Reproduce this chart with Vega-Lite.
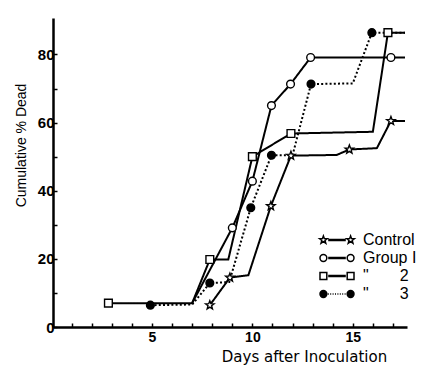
{
  "$schema": "https://vega.github.io/schema/vega-lite/v6.json",
  "autosize": {"type": "none"},
  "padding": {"left": 53, "top": 18, "right": 26, "bottom": 46},
  "width": 354,
  "height": 309,
  "background": "white",
  "config": {"view": {"stroke": null}},
  "data": {"values": [
    {"group": "Control", "day": 7.88, "pct": 6.4, "marker": true},
    {"group": "Control", "day": 8.88, "pct": 14.5, "marker": true},
    {"group": "Control", "day": 9.8, "pct": 15.2, "marker": false},
    {"group": "Control", "day": 10.92, "pct": 35.5, "marker": true},
    {"group": "Control", "day": 11.92, "pct": 50.3, "marker": true},
    {"group": "Control", "day": 14.2, "pct": 50.5, "marker": false},
    {"group": "Control", "day": 14.83, "pct": 52.1, "marker": true},
    {"group": "Control", "day": 16.2, "pct": 52.5, "marker": false},
    {"group": "Control", "day": 16.9, "pct": 60.5, "marker": true},
    {"group": "Control", "day": 17.6, "pct": 60.5, "marker": false},
    {"group": "Group I", "day": 7.0, "pct": 7.0, "marker": false},
    {"group": "Group I", "day": 9.0, "pct": 29.1, "marker": true},
    {"group": "Group I", "day": 10.0, "pct": 42.8, "marker": true},
    {"group": "Group I", "day": 10.95, "pct": 65.0, "marker": true},
    {"group": "Group I", "day": 11.9, "pct": 71.3, "marker": true},
    {"group": "Group I", "day": 12.9, "pct": 79.1, "marker": true},
    {"group": "Group I", "day": 16.9, "pct": 79.1, "marker": true},
    {"group": "Group I", "day": 17.6, "pct": 79.1, "marker": false},
    {"group": "Group 2", "day": 2.83, "pct": 7.0, "marker": true},
    {"group": "Group 2", "day": 7.0, "pct": 7.0, "marker": false},
    {"group": "Group 2", "day": 7.88, "pct": 19.8, "marker": true},
    {"group": "Group 2", "day": 8.8, "pct": 19.8, "marker": false},
    {"group": "Group 2", "day": 10.0, "pct": 50.0, "marker": true},
    {"group": "Group 2", "day": 11.92, "pct": 56.8, "marker": true},
    {"group": "Group 2", "day": 16.0, "pct": 57.3, "marker": false},
    {"group": "Group 2", "day": 16.75, "pct": 86.4, "marker": true},
    {"group": "Group 2", "day": 17.6, "pct": 86.4, "marker": false},
    {"group": "Group 3", "day": 4.92, "pct": 6.4, "marker": true},
    {"group": "Group 3", "day": 7.0, "pct": 6.6, "marker": false},
    {"group": "Group 3", "day": 7.88, "pct": 12.9, "marker": true},
    {"group": "Group 3", "day": 8.85, "pct": 13.2, "marker": false},
    {"group": "Group 3", "day": 9.92, "pct": 35.0, "marker": true},
    {"group": "Group 3", "day": 10.95, "pct": 50.4, "marker": true},
    {"group": "Group 3", "day": 12.0, "pct": 50.4, "marker": false},
    {"group": "Group 3", "day": 12.92, "pct": 71.3, "marker": true},
    {"group": "Group 3", "day": 15.0, "pct": 71.5, "marker": false},
    {"group": "Group 3", "day": 15.95, "pct": 86.4, "marker": true},
    {"group": "Group 3", "day": 17.6, "pct": 86.4, "marker": false}
  ]},
  "encoding": {
    "x": {
      "field": "day", "type": "quantitative",
      "scale": {"domain": [0.07, 17.7], "nice": false, "zero": false},
      "axis": {
        "values": [1,2,3,4,5,6,7,8,9,10,11,12,13,14,15,16,17],
        "labelExpr": "datum.value % 5 == 0 ? datum.label : ''",
        "grid": false,
        "domainColor": "black", "domainWidth": 2.5,
        "tickColor": "black", "tickWidth": 1.5, "tickSize": -4,
        "labelPadding": 7,
        "labelFont": "Liberation Sans", "labelFontSize": 14, "labelFontWeight": "bold", "labelColor": "black",
        "title": "Days after Inoculation",
        "titleFont": "DejaVu Sans", "titleFontSize": 15, "titleFontWeight": "normal", "titleColor": "black",
        "titleX": 251, "titleY": 34, "titleAlign": "center", "titleBaseline": "alphabetic", "titleAnchor": null
      }
    },
    "y": {
      "field": "pct", "type": "quantitative",
      "scale": {"domain": [0, 90.7], "nice": false, "zero": true},
      "axis": {
        "values": [0,10,20,30,40,50,60,70,80],
        "labelExpr": "datum.value % 20 == 0 ? datum.label : ''",
        "grid": false,
        "domainColor": "black", "domainWidth": 2.5,
        "tickColor": "black", "tickWidth": 1.5, "tickSize": -4,
        "labelPadding": 3,
        "labelFont": "Liberation Sans", "labelFontSize": 15, "labelFontWeight": "bold", "labelColor": "black",
        "title": "Cumulative % Dead",
        "titleFont": "Liberation Sans", "titleFontSize": 14, "titleFontWeight": "normal", "titleColor": "black",
        "titleX": -28, "titleY": 127, "titleAlign": "center", "titleBaseline": "alphabetic", "titleAngle": -90, "titleAnchor": null
      }
    }
  },
  "layer": [
    {
      "mark": {"type": "line", "color": "black", "strokeWidth": 2},
      "encoding": {
        "detail": {"field": "group"},
        "strokeDash": {
          "field": "group", "type": "nominal",
          "scale": {"domain": ["Control", "Group I", "Group 2", "Group 3"], "range": [[1, 0], [1, 0], [1, 0], [2, 2.2]]},
          "legend": null
        }
      }
    },
    {
      "transform": [{"filter": "datum.marker"}],
      "mark": {"type": "point", "filled": true, "stroke": "black", "strokeWidth": 1.4, "size": 60, "opacity": 1},
      "encoding": {
        "shape": {
          "field": "group", "type": "nominal",
          "scale": {"domain": ["Control", "Group I", "Group 2", "Group 3"], "range": ["M0,-1.15L0.284,-0.391L1.094,-0.355L0.459,0.149L0.676,0.93L0,0.483L-0.676,0.93L-0.459,0.149L-1.094,-0.355L-0.284,-0.391Z", "circle", "square", "circle"]},
          "legend": null
        },
        "fill": {
          "field": "group", "type": "nominal",
          "scale": {"domain": ["Control", "Group I", "Group 2", "Group 3"], "range": ["white", "white", "white", "black"]},
          "legend": null
        }
      }
    },
    {
      "transform": [{"filter": "false"}],
      "mark": {"type": "point", "filled": true, "stroke": "black", "strokeWidth": 1.3, "size": 64, "opacity": 1},
      "encoding": {
        "shape": {
          "field": "group", "type": "nominal",
          "scale": {"domain": ["Control", "Group I", "Group 2", "Group 3"], "range": [
            "M-3.4,-1L-3.153,-0.34L-2.449,-0.309L-3.001,0.13L-2.812,0.809L-3.4,0.42L-3.988,0.809L-3.799,0.13L-4.351,-0.309L-3.647,-0.34ZM3.4,-1L3.647,-0.34L4.351,-0.309L3.799,0.13L3.988,0.809L3.4,0.42L2.812,0.809L3.001,0.13L2.449,-0.309L3.153,-0.34ZM-2.2,-0.15L2.2,-0.15M-2.2,0.15L2.2,0.15",
            "M-4.25,0A0.85,0.85 0 1,0 -2.55,0A0.85,0.85 0 1,0 -4.25,0ZM2.55,0A0.85,0.85 0 1,0 4.25,0A0.85,0.85 0 1,0 2.55,0ZM-2.2,-0.15L2.2,-0.15M-2.2,0.15L2.2,0.15",
            "M-4.25,-0.85L-2.55,-0.85L-2.55,0.85L-4.25,0.85ZM2.55,-0.85L4.25,-0.85L4.25,0.85L2.55,0.85ZM-2.2,-0.15L2.2,-0.15M-2.2,0.15L2.2,0.15",
            "M-4.25,0A0.85,0.85 0 1,0 -2.55,0A0.85,0.85 0 1,0 -4.25,0ZM2.55,0A0.85,0.85 0 1,0 4.25,0A0.85,0.85 0 1,0 2.55,0ZM-2.3,0L-2.05,0M-1.7,0L-1.45,0M-1.1,0L-0.85,0M-0.5,0L-0.25,0M0.1,0L0.35,0M0.7,0L0.95,0M1.3,0L1.55,0M1.9,0L2.15,0"
          ]},
          "legend": {
            "orient": "none", "legendX": 276, "legendY": 214,
            "title": null, "padding": 0,
            "symbolSize": 64,
            "labelFont": "Liberation Sans", "labelFontSize": 16, "labelColor": "black", "labelOffset": 18,
            "rowPadding": 2,
            "labelExpr": "datum.label == 'Group 2' ? '\u00a0\u00a0\"\u00a0\u00a0\u00a0\u00a0\u00a0\u00a0\u00a02' : datum.label == 'Group 3' ? '\u00a0\u00a0\"\u00a0\u00a0\u00a0\u00a0\u00a0\u00a0\u00a03' : datum.label",
            "encode": {"symbols": {"update": {"stroke": {"value": "black"}, "strokeWidth": {"value": 1.3}, "opacity": {"value": 1}}}}
          }
        },
        "fill": {
          "field": "group", "type": "nominal",
          "scale": {"domain": ["Control", "Group I", "Group 2", "Group 3"], "range": ["white", "white", "white", "black"]},
          "legend": {
            "orient": "none", "legendX": 276, "legendY": 214,
            "title": null, "padding": 0,
            "symbolSize": 64,
            "labelFont": "Liberation Sans", "labelFontSize": 16, "labelColor": "black", "labelOffset": 18,
            "rowPadding": 2,
            "labelExpr": "datum.label == 'Group 2' ? '\u00a0\u00a0\"\u00a0\u00a0\u00a0\u00a0\u00a0\u00a0\u00a02' : datum.label == 'Group 3' ? '\u00a0\u00a0\"\u00a0\u00a0\u00a0\u00a0\u00a0\u00a0\u00a03' : datum.label",
            "encode": {"symbols": {"update": {"stroke": {"value": "black"}, "strokeWidth": {"value": 1.3}, "opacity": {"value": 1}}}}
          }
        }
      }
    }
  ],
  "resolve": {"scale": {"shape": "independent", "fill": "independent"}}
}
